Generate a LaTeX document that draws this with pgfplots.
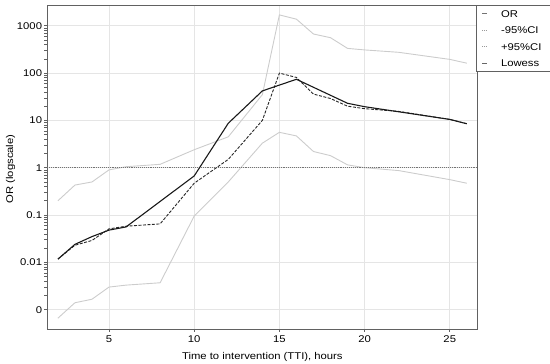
\documentclass[border=0pt]{standalone}
\usepackage{fontspec}
\setmainfont{Liberation Sans}[FakeStretch=1.15]
\usepackage{pgfplots}
\pgfplotsset{compat=1.18}
\begin{document}
\fontsize{9.8}{11}\selectfont
\begin{tikzpicture}
\useasboundingbox (0,0) rectangle (550pt,364pt);
\begin{axis}[
  at={(47pt,35pt)}, anchor=south west,
  scale only axis, width=430.7pt, height=324pt,
  xmin=1.36, xmax=26.64,
  ymode=log, ymin=3.9e-4, ymax=2750,
  xtick={5,10,15,20,25},
  ytick={0.001,0.01,0.1,1,10,100,1000},
  yticklabels={0,0.01,0.1,1,10,100,1000},
  minor ytick={},
  xtick pos=bottom, ytick pos=left,
  tick align=outside, major tick length=3pt,
  grid=major, grid style={draw=black!10, line width=0.6pt},
  axis line style={draw=black!62, line width=0.8pt},
  tick style={draw=black!62, line width=0.6pt},
  /pgf/number format/assume math mode=true,
  ticklabel style={font=\fontsize{9.8}{11}\selectfont},
  yticklabel style={xshift=1.5pt},
  label style={font=\fontsize{9.8}{11}\selectfont},
  xlabel={Time to intervention (TTI), hours},
  ylabel={OR (logscale)},
  xlabel style={at={(axis description cs:0.5,-0.0864)}, anchor=center},
  ylabel style={at={(axis description cs:-0.0847,0.494)}, anchor=center, rotate=0},
  legend cell align=left,
  legend style={at={(axis description cs:1,1)}, anchor=north west, xshift=-1.5pt, yshift=0pt,
    draw=black!62, line width=0.8pt, fill=white, inner xsep=5pt, inner ysep=4pt,
    row sep=7.5pt, font=\fontsize{9.8}{11}\selectfont,
    nodes={inner sep=1pt, text width=48pt, text height=7pt, text depth=0pt}},
  legend image code/.code={\draw[#1] (0pt,0pt) -- (5pt,0pt); \path[draw=none,fill=none] (0pt,0pt) -- (18pt,0pt);},
]
% lower 95% CI
\addplot[forget plot, black!20, line width=0.9pt] coordinates {
 (2,0.00066) (3,0.0014) (4,0.00166) (5,0.0030) (6,0.0033) (8,0.0037)
 (10,0.095) (12,0.5) (14,3.3) (15,5.6) (16,4.7) (17,2.2) (18,1.8)
 (19,1.15) (20,1.0) (22,0.87) (25,0.56) (26,0.47)};
% upper 95% CI
\addplot[forget plot, black!20, line width=0.9pt] coordinates {
 (2,0.2) (3,0.43) (4,0.5) (5,0.9) (6,1.05) (8,1.18) (10,2.4) (12,4.5)
 (14,35) (15,1700) (16,1380) (17,670) (18,560) (19,333) (20,309)
 (22,275) (25,195) (26,162)};
% reference line at 1
\addplot[forget plot, black!55, densely dotted, line width=0.9pt] coordinates {(1.36,1) (26.64,1)};
% OR (dashed)
\addplot[forget plot, black!85, dash pattern=on 3pt off 1.5pt, line width=0.9pt] coordinates {
 (2,0.0117) (3,0.023) (4,0.029) (5,0.051) (6,0.058) (8,0.065) (10,0.47)
 (12,1.5) (14,10) (15,100) (16,81) (17,36) (18,29) (19,20) (20,17.7)
 (22,15.5) (25,10.5) (26,8.5)};
% Lowess (solid)
\addplot[forget plot, black!90, line width=1.1pt] coordinates {
 (2,0.0117) (3,0.024) (4,0.035) (5,0.048) (6,0.056) (10,0.67) (12,8.7)
 (14,42) (16,74) (19,23) (20,19.5) (25,10.5) (26,8.5)};
\addlegendimage{black!55, line width=0.8pt}
\addlegendentry{OR}
\addlegendimage{black!40, densely dotted, line width=0.8pt}
\addlegendentry{-95\%CI}
\addlegendimage{black!40, densely dotted, line width=0.8pt}
\addlegendentry{+95\%CI}
\addlegendimage{black!60, line width=0.8pt}
\addlegendentry{Lowess}
\end{axis}
\end{tikzpicture}
\end{document}
